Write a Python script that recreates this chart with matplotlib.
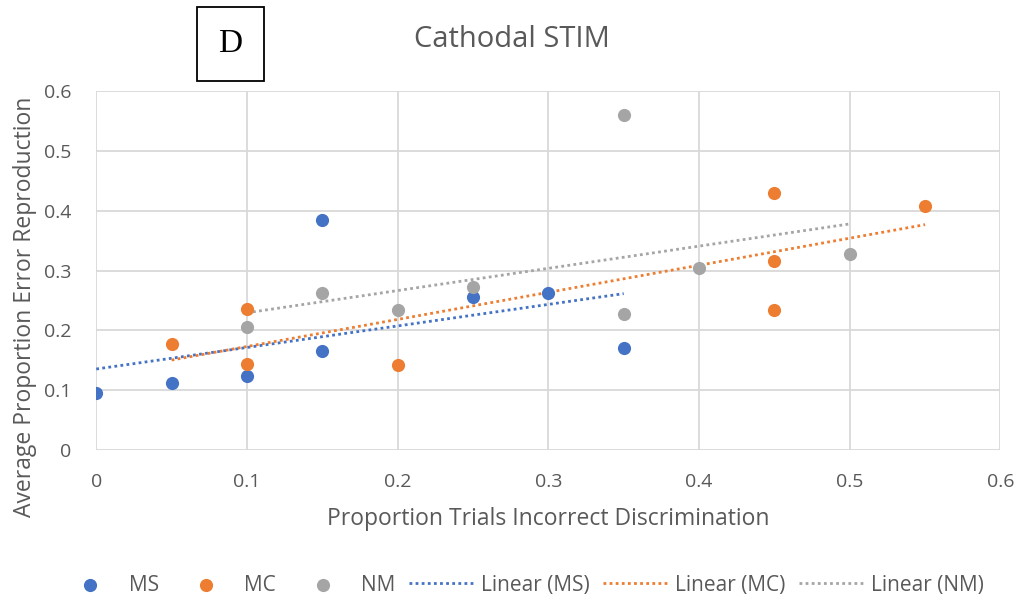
import numpy as np
import matplotlib
matplotlib.use('Agg')
import matplotlib.pyplot as plt
from matplotlib.patches import Rectangle

# data
ms_x = [0, 0.05, 0.1, 0.15, 0.15, 0.25, 0.3, 0.35]
ms_y = [0.096, 0.112, 0.124, 0.385, 0.166, 0.256, 0.262, 0.170]
mc_x = [0.05, 0.1, 0.1, 0.2, 0.45, 0.45, 0.45, 0.55]
mc_y = [0.177, 0.236, 0.144, 0.142, 0.430, 0.316, 0.234, 0.408]
nm_x = [0.1, 0.15, 0.2, 0.25, 0.35, 0.35, 0.4, 0.5]
nm_y = [0.206, 0.262, 0.234, 0.272, 0.560, 0.227, 0.304, 0.328]

series = [('MS', ms_x, ms_y, '#4472C4'),
          ('MC', mc_x, mc_y, '#ED7D31'),
          ('NM', nm_x, nm_y, '#A5A5A5')]

plt.rcParams['font.family'] = ['Open Sans', 'DejaVu Sans']
txt = '#595959'

fig = plt.figure(figsize=(10.24, 6.02), dpi=100)
ax = fig.add_axes([0.094, 0.252, 0.883, 0.597])

handles = []
for name, x, y, c in series:
    h = ax.scatter(x, y, s=90, color=c, label=name, zorder=3, linewidths=0)
    handles.append(h)

trend = []
for name, x, y, c in series:
    k, b = np.polyfit(x, y, 1)
    xs = np.array([min(x), max(x)])
    ln, = ax.plot(xs, k * xs + b, color=c, linestyle=(0, (1, 1.2)), linewidth=2,
                  label='Linear (%s)' % name, zorder=2)
    trend.append(ln)

ax.set_xlim(0, 0.6)
ax.set_ylim(0, 0.6)
ax.set_xticks(np.arange(0, 0.61, 0.1))
ax.set_yticks(np.arange(0, 0.61, 0.1))
ax.set_xticklabels(['0', '0.1', '0.2', '0.3', '0.4', '0.5', '0.6'])
ax.set_yticklabels(['0', '0.1', '0.2', '0.3', '0.4', '0.5', '0.6'])
ax.grid(True, color='#d9d9d9', linewidth=1.3)
ax.set_axisbelow(True)
for s in ax.spines.values():
    s.set_visible(False)
ax.tick_params(length=0, labelsize=14, labelcolor=txt)
ax.tick_params(axis='y', pad=18)
ax.tick_params(axis='x', pad=16)
ax.set_xlabel('Proportion Trials Incorrect Discrimination', fontsize=16.5, color=txt, labelpad=12)
ax.set_ylabel('Average Proportion Error Reproduction', fontsize=16.5, color=txt)
ax.yaxis.set_label_coords(-0.066, 0.398)

fig.text(0.5, 0.935, 'Cathodal STIM', fontsize=21, color=txt, ha='center', va='center')

# panel letter box
fig.patches.append(Rectangle((197 / 1024, 1 - 81 / 602), 67 / 1024, 74 / 602,
                             transform=fig.transFigure, fill=False,
                             edgecolor='black', linewidth=1.3))
fig.text(230.5 / 1024, 1 - 44 / 602, 'D', fontsize=24, family='Liberation Serif',
         ha='center', va='center', color='black')

fig.legend(handles + trend, [h.get_label() for h in handles + trend],
           loc='center', bbox_to_anchor=(0.508, 0.028), ncol=6, frameon=False,
           fontsize=15, labelcolor=txt, handlelength=3.2, columnspacing=0.65,
           handletextpad=0.25, borderpad=0)

fig.savefig('out.png', dpi=100)
